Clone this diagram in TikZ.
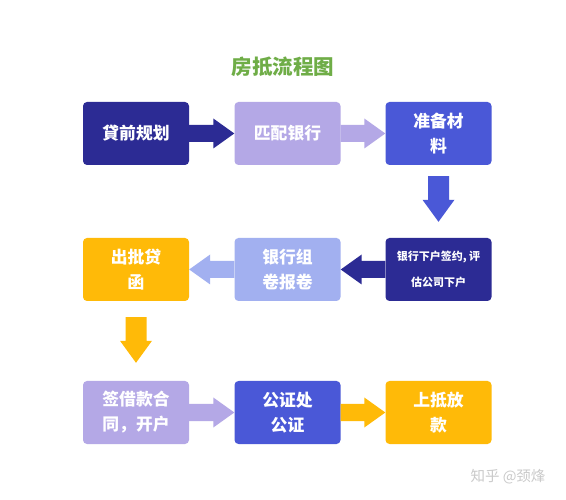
\documentclass[tikz,border=0pt]{standalone}
\usepackage{fontspec}
\setmainfont{Noto Sans CJK SC}
\usetikzlibrary{calc}
\definecolor{navy}{HTML}{2C2B94}
\definecolor{lav}{HTML}{B4A8E6}
\definecolor{blu}{HTML}{4A58D7}
\definecolor{peri}{HTML}{A2B0F0}
\definecolor{yel}{HTML}{FFBA08}
\definecolor{ttl}{HTML}{6FAD47}
\definecolor{wm}{HTML}{CACACA}
\newcommand\RArr[3]{\fill[#3] ($(#1.east)+(0,-8.5)$) -- ($(#2.west)+(-21,-8.5)$) -- ($(#2.west)+(-21,-15)$) -- (#2.west) -- ($(#2.west)+(-21,15)$) -- ($(#2.west)+(-21,8.5)$) -- ($(#1.east)+(0,8.5)$) -- cycle;}
\newcommand\LArr[3]{\fill[#3] ($(#1.west)+(0,-8.5)$) -- ($(#2.east)+(21,-8.5)$) -- ($(#2.east)+(21,-15)$) -- (#2.east) -- ($(#2.east)+(21,15)$) -- ($(#2.east)+(21,8.5)$) -- ($(#1.west)+(0,8.5)$) -- cycle;}
\newcommand\DArr[3]{\fill[#3] ($(#1)+(-10.5,0)$) -- ($(#2)+(-10.5,-22)$) -- ($(#2)+(-16,-22)$) -- (#2) -- ($(#2)+(16,-22)$) -- ($(#2)+(10.5,-22)$) -- ($(#1)+(10.5,0)$) -- cycle;}
\begin{document}
\begin{tikzpicture}[x=1pt,y=-1pt,
  box/.style={rounded corners=4pt, minimum width=106pt, minimum height=63pt, inner sep=0pt,
    text=white, font=\fontsize{16.8}{25}\selectfont\bfseries, align=center},
]
\useasboundingbox[fill=white] (0,0) rectangle (566,500);
\node[font=\fontsize{20.5}{24}\selectfont\bfseries, text=ttl] (title) at (283,67) {房抵流程图};
% row 1
\node[box, fill=navy] (b1) at (136,133.5) {貸前规划};
\node[box, fill=lav] (b2) at (287.5,133.5) {匹配银行};
\node[box, fill=blu] (b3) at (438.5,133.5) {准备材\\料};
% row 2
\node[box, fill=yel] (b4) at (136,269.5) {出批贷\\函};
\node[box, fill=peri] (b5) at (287.5,269.5) {银行组\\卷报卷};
\node[box, fill=navy, font=\fontsize{11}{26}\selectfont\bfseries] (b6) at (438.5,269.5) {银行下户签约, 评\\估公司下户};
% row 3
\node[box, fill=lav] (b7) at (136,412.5) {签借款合\\同，开户};
\node[box, fill=blu] (b8) at (287.5,412.5) {公证处\\公证};
\node[box, fill=yel] (b9) at (438.5,412.5) {上抵放\\款};
% connector end points
\coordinate (d1s) at ($(b3.south)+(0,11)$);
\coordinate (d1e) at ($(b6.north)+(0,-16)$);
\coordinate (d2s) at ($(b4.south)+(0,16)$);
\coordinate (d2e) at ($(b7.north)+(0,-18)$);
% arrows
\RArr{b1}{b2}{navy}
\RArr{b2}{b3}{lav}
\DArr{d1s}{d1e}{blu}
\LArr{b6}{b5}{navy}
\LArr{b5}{b4}{peri}
\DArr{d2s}{d2e}{yel}
\RArr{b7}{b8}{lav}
\RArr{b8}{b9}{yel}
\node[font=\fontsize{14.5}{16}\selectfont, text=wm] (wmark) at (508,477) {知乎 @颈烽};
\end{tikzpicture}
\end{document}
